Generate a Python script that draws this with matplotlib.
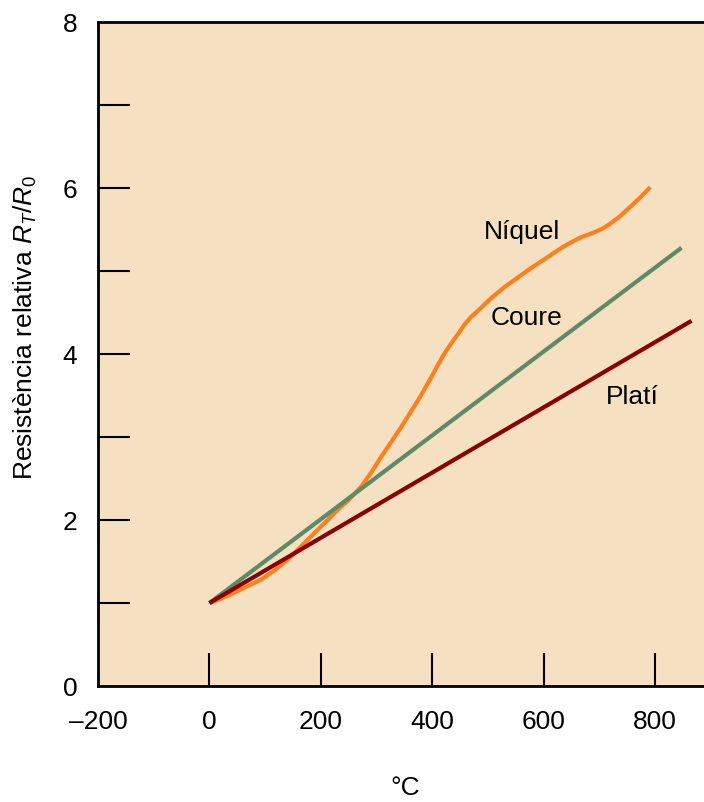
import numpy as np
import matplotlib.pyplot as plt

plt.rcParams['font.family'] = ['Liberation Sans', 'DejaVu Sans']
plt.rcParams['mathtext.fontset'] = 'custom'
plt.rcParams['mathtext.it'] = 'Liberation Sans:italic'
plt.rcParams['mathtext.rm'] = 'Liberation Sans'

# data
pt_temp = [0, 865]
pt_ratio = [1.0, 4.40]

cu_temp = [0, 847]
cu_ratio = [1.0, 5.28]

ni_temp = [0, 20, 43, 67, 92, 116, 140, 161, 182, 203, 224, 236, 248, 272, 290,
           308, 326, 344, 360, 375, 387, 398, 410, 422, 435, 447, 458, 470, 483,
           505, 530, 555, 578, 605, 632, 650, 668, 680, 692, 705, 717, 735, 753,
           772, 791]
ni_ratio = [1.0, 1.05, 1.12, 1.20, 1.28, 1.39, 1.52, 1.66, 1.80, 1.94, 2.08, 2.16,
            2.23, 2.40, 2.57, 2.76, 2.94, 3.12, 3.29, 3.45, 3.59, 3.72, 3.87, 4.01,
            4.14, 4.25, 4.36, 4.45, 4.53, 4.67, 4.81, 4.93, 5.04, 5.16, 5.28, 5.35,
            5.41, 5.44, 5.47, 5.51, 5.56, 5.65, 5.76, 5.88, 6.01]

labels = ['Níquel', 'Coure', 'Platí']
label_pos = [(560, 5.47), (569, 4.43), (758, 3.48)]

bg = '#F5E1C2'

fig = plt.figure(figsize=(7.04, 8.02), dpi=100)
ax = fig.add_axes([98/704, 116/802, 1 - 98/704 + 0.01, (686-22)/802])
ax.set_facecolor(bg)

ax.plot(ni_temp, ni_ratio, color='#FF7F1E', lw=3, solid_capstyle='butt', zorder=2)
ax.plot(cu_temp, cu_ratio, color='#5E8A68', lw=3, solid_capstyle='butt', zorder=3)
ax.plot(pt_temp, pt_ratio, color='#8B0000', lw=3, solid_capstyle='butt', zorder=4)

for txt, (x, y) in zip(labels, label_pos):
    ax.text(x, y, txt, fontsize=19, ha='center', va='center')

ax.set_xlim(-200, 900)
ax.set_ylim(0, 8)

ax.set_xticks([-200, 0, 200, 400, 600, 800])
ax.set_xticklabels(['–200', '0', '200', '400', '600', '800'])
ax.set_yticks([0, 2, 4, 6, 8])
ax.set_yticks([1, 3, 5, 7], minor=True)

ax.tick_params(axis='x', direction='in', length=24, width=1.5, pad=17, labelsize=19)
ax.tick_params(axis='y', which='both', direction='in', length=23, width=1.5, pad=15, labelsize=19)
xt = ax.xaxis.get_major_ticks()
xt[0].tick1line.set_visible(False)
yt = ax.yaxis.get_major_ticks()
yt[0].tick1line.set_visible(False)
yt[-1].tick1line.set_visible(False)

for s in ['left', 'bottom', 'top']:
    ax.spines[s].set_linewidth(2)
ax.spines['right'].set_visible(False)

ax.set_ylabel('Resistència relativa $R_T/R_0$', fontsize=19, va='center')
ax.yaxis.set_label_coords(-0.119, 0.54)
fig.text(405/704, 1 - 788/802, '°C', fontsize=19, ha='center', va='center')

fig.savefig('out.png', dpi=100, facecolor='white')
